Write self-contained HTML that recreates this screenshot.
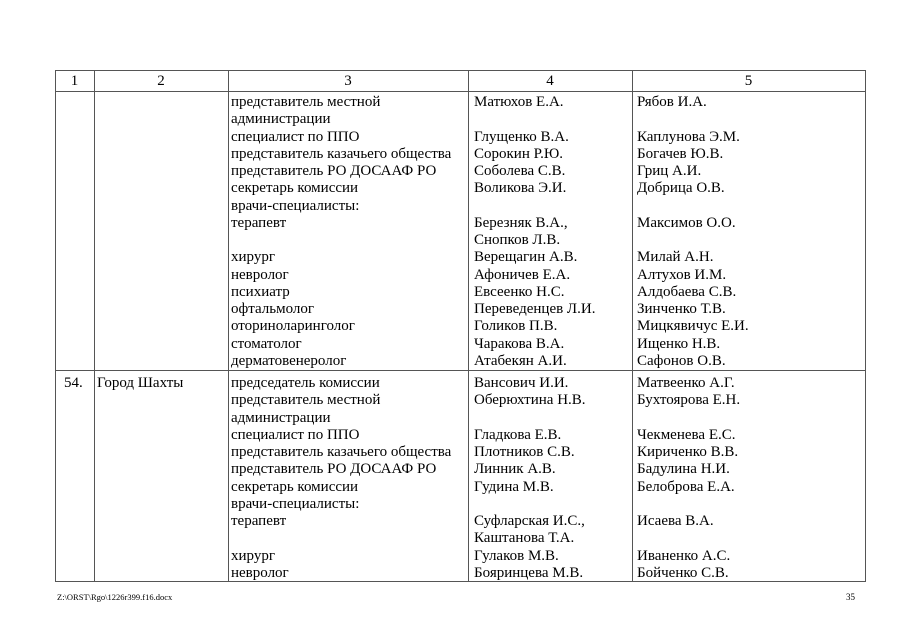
<!DOCTYPE html>
<html><head><meta charset="utf-8"><style>
body{margin:0;background:#fff;width:905px;height:640px;position:relative;overflow:hidden;font-family:"Liberation Serif",serif;font-size:15px;color:#000}
.h{position:absolute;height:1px;background:#555}
.v{position:absolute;width:1px;background:#555}
.t{position:absolute;line-height:17.25px;white-space:nowrap}
.c{text-align:center}
</style></head><body>
<div class="h" style="left:55px;width:810px;top:70px"></div>
<div class="h" style="left:55px;width:810px;top:91px"></div>
<div class="h" style="left:55px;width:810px;top:370px"></div>
<div class="h" style="left:55px;width:810px;top:581px"></div>
<div class="v" style="left:55px;top:70px;height:512px"></div>
<div class="v" style="left:94px;top:70px;height:512px"></div>
<div class="v" style="left:228px;top:70px;height:512px"></div>
<div class="v" style="left:468px;top:70px;height:512px"></div>
<div class="v" style="left:632px;top:70px;height:512px"></div>
<div class="v" style="left:865px;top:70px;height:512px"></div>
<div class="t c" style="left:55px;width:39px;top:73px">1</div>
<div class="t c" style="left:94px;width:134px;top:73px">2</div>
<div class="t c" style="left:228px;width:240px;top:73px">3</div>
<div class="t c" style="left:468px;width:164px;top:73px">4</div>
<div class="t c" style="left:632px;width:233px;top:73px">5</div>

<div class="t" style="left:231px;top:94px">представитель местной<br>администрации<br>специалист по ППО<br>представитель казачьего общества<br>представитель РО ДОСААФ РО<br>секретарь комиссии<br>врачи-специалисты:<br>терапевт<br><br>хирург<br>невролог<br>психиатр<br>офтальмолог<br>оториноларинголог<br>стоматолог<br>дерматовенеролог</div>
<div class="t" style="left:474px;top:94px">Матюхов Е.А.<br><br>Глущенко В.А.<br>Сорокин Р.Ю.<br>Соболева С.В.<br>Воликова Э.И.<br><br>Березняк В.А.,<br>Снопков Л.В.<br>Верещагин А.В.<br>Афоничев Е.А.<br>Евсеенко Н.С.<br>Переведенцев Л.И.<br>Голиков П.В.<br>Чаракова В.А.<br>Атабекян А.И.</div>
<div class="t" style="left:637px;top:94px">Рябов И.А.<br><br>Каплунова Э.М.<br>Богачев Ю.В.<br>Гриц А.И.<br>Добрица О.В.<br><br>Максимов О.О.<br><br>Милай А.Н.<br>Алтухов И.М.<br>Алдобаева С.В.<br>Зинченко Т.В.<br>Мицкявичус Е.И.<br>Ищенко Н.В.<br>Сафонов О.В.</div>

<div class="t" style="left:64px;top:375px">54.</div>
<div class="t" style="left:97px;top:375px">Город Шахты</div>
<div class="t" style="left:231px;top:375px">председатель комиссии<br>представитель местной<br>администрации<br>специалист по ППО<br>представитель казачьего общества<br>представитель РО ДОСААФ РО<br>секретарь комиссии<br>врачи-специалисты:<br>терапевт<br><br>хирург<br>невролог</div>
<div class="t" style="left:474px;top:375px">Вансович И.И.<br>Оберюхтина Н.В.<br><br>Гладкова Е.В.<br>Плотников С.В.<br>Линник А.В.<br>Гудина М.В.<br><br>Суфларская И.С.,<br>Каштанова Т.А.<br>Гулаков М.В.<br>Бояринцева М.В.</div>
<div class="t" style="left:637px;top:375px">Матвеенко А.Г.<br>Бухтоярова Е.Н.<br><br>Чекменева Е.С.<br>Кириченко В.В.<br>Бадулина Н.И.<br>Белоброва Е.А.<br><br>Исаева В.А.<br><br>Иваненко А.С.<br>Бойченко С.В.</div>

<div class="t" style="left:57px;top:589px;font-size:8.5px">Z:\ORST\Rgo\1226r399.f16.docx</div>
<div class="t" style="left:846px;top:589px;font-size:9px">35</div>
</body></html>
